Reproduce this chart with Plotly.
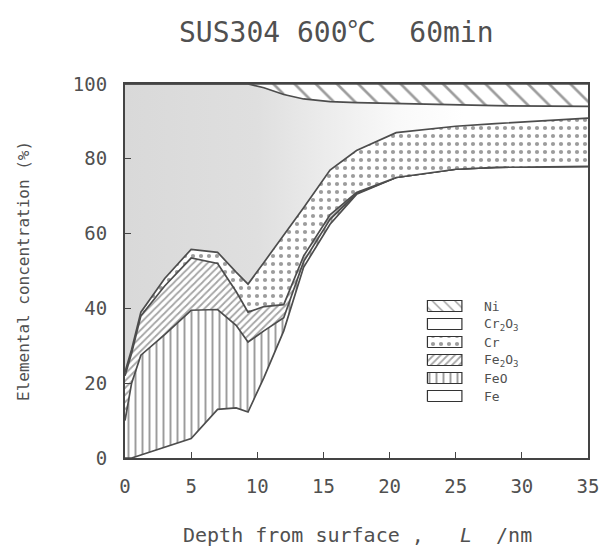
import numpy as np
import plotly.graph_objects as go

# Depth profile of SUS304 oxidised at 600 °C for 60 min (composition in %)
depth = [0, 0.5, 1.2, 3, 5, 7, 8.4, 9.3, 10.5, 12, 13.5, 15.5, 17.5, 20.5, 25, 28, 35]
fe    = [0, 0, 0.8, 2.8, 5.2, 13, 13.4, 12.3, 21.5, 34, 51, 62.5, 70.5, 75, 77.2, 77.7, 78]
feo   = [10, 20, 26.7, 30.2, 34.3, 26.7, 22.1, 18.7, 12.5, 3.5, 1.5, 1.3, 0.2, 0, 0, 0, 0]
fe2o3 = [12, 8, 10.5, 13, 14, 12.3, 9, 8, 6.5, 3.5, 1.5, 1.2, 0.3, 0, 0, 0, 0]
cr    = [1, 1, 1, 2, 2.3, 3, 5.2, 7.5, 11.8, 18.6, 12.9, 12, 11.2, 12, 11.5, 11.7, 12.9]
cr2o3 = [77, 71, 61, 52, 44.2, 45, 50.3, 53.5, 46.7, 37.6, 29.1, 18.3, 12.8, 7.8, 5.9, 4.8, 3.1]
ni    = [0, 0, 0, 0, 0, 0, 0, 0, 1, 2.8, 4, 4.7, 5, 5.2, 5.4, 5.8, 6]

x_ticks = [0, 5, 10, 15, 20, 25, 30, 35]
y_ticks = [0, 20, 40, 60, 80, 100]

MONO = "DejaVu Sans Mono, Noto Sans CJK JP, monospace"
INK = "#4d4d4d"
TXT = "#505050"

HAZE = [[0, "#d9d9d9"], [0.28, "#dfdfdf"], [0.43, "#ececec"],
        [0.58, "#f9f9f9"], [0.72, "#ffffff"], [1, "#ffffff"]]

# Layers from the bottom up, with the hatch used for each (None = plain / haze)
layers = [
    ("Fe", fe, None),
    ("FeO", feo, dict(shape="|", size=7, solidity=0.28, fgcolor="#3a3a3a", bgcolor="white")),
    ("Fe<sub>2</sub>O<sub>3</sub>", fe2o3, dict(shape="/", size=5, solidity=0.35, fgcolor="#4a4a4a", bgcolor="white")),
    ("Cr", cr, dict(shape=".", size=8, solidity=0.22, fgcolor="#3a3a3a", bgcolor="white")),
    ("Cr<sub>2</sub>O<sub>3</sub>", cr2o3, None),
    ("Ni", ni, dict(shape="\\", size=15, solidity=0.18, fgcolor="#3a3a3a", bgcolor="white")),
]

fig = go.Figure()
x = np.array(depth, dtype=float)
base = np.zeros_like(x)
for i, (name, vals, pat) in enumerate(layers):
    top = base + np.array(vals, dtype=float)
    kw = dict(
        x=x, y=top, mode="lines", name=name,
        line=dict(color=INK, width=1.7),
        fill="tozeroy" if i == 0 else "tonexty",
        fillcolor="white", showlegend=False, hoverinfo="skip",
    )
    if name.startswith("Cr<sub>2"):
        # oxide film: grey haze fading with depth
        kw["fillgradient"] = dict(type="horizontal", start=0, stop=35, colorscale=HAZE)
    elif pat is not None:
        kw["fillpattern"] = pat
    fig.add_trace(go.Scatter(**kw))
    base = top

# Key drawn on a pixel-scaled overlay (0..470 x 0..374 over the plot area)
key_rows = [152, 134, 116, 98, 80, 62]
for (name, vals, pat), yc in zip(reversed(layers), key_rows):
    x0, x1, y0, y1 = 307, 342, yc - 5.5, yc + 5.5
    kw = dict(x=[x0, x1, x1, x0, x0], y=[y0, y0, y1, y1, y0], mode="lines",
              fill="toself", fillcolor="white", line=dict(color="#333333", width=1.2),
              xaxis="x2", yaxis="y2", showlegend=False, hoverinfo="skip")
    if pat is not None:
        p = dict(pat)
        p["size"] = min(p["size"], 8)
        kw["fillpattern"] = p
    fig.add_trace(go.Scatter(**kw))
    fig.add_annotation(x=362, y=yc, xref="x2", yref="y2", text=name, showarrow=False,
                       xanchor="left", yanchor="middle",
                       font=dict(family=MONO, size=13, color=TXT))

axis_style = dict(ticks="inside", ticklen=6, tickcolor="#444", showline=True,
                  linecolor="#444", linewidth=2, mirror=True, showgrid=False,
                  zeroline=False, tickfont=dict(family=MONO, size=19, color=TXT))

fig.update_layout(
    width=611, height=555,
    margin=dict(l=125, r=16, t=84, b=97),
    paper_bgcolor="white", plot_bgcolor="white",
    font=dict(family=MONO, color=TXT),
    showlegend=False,
    xaxis=dict(range=[0, 35], tickvals=x_ticks, ticklabelstandoff=10, **axis_style),
    yaxis=dict(range=[0, 100], tickvals=y_ticks, ticklabelstandoff=12, **axis_style),
    xaxis2=dict(range=[0, 470], overlaying="x", anchor="y2", visible=False),
    yaxis2=dict(range=[0, 374], overlaying="y", anchor="x2", visible=False),
    annotations=list(fig.layout.annotations) + [
        dict(text="SUS304\u00a0600\u2103\u00a0\u00a060min", xref="paper", yref="paper",
             x=0.457, y=1, yshift=52, xanchor="center", yanchor="middle",
             showarrow=False, font=dict(family=MONO, size=28, color=TXT)),
        dict(text="Elemental concentration (%)", xref="paper", yref="paper",
             x=0, y=0.5, xshift=-102, textangle=-90, xanchor="center", yanchor="middle",
             showarrow=False, font=dict(family=MONO, size=16, color=TXT)),
        dict(text="Depth from surface ,\u00a0\u00a0\u00a0<i>L</i>\u00a0\u00a0/nm", xref="paper", yref="paper",
             x=0.502, y=0, yshift=-77, xanchor="center", yanchor="middle",
             showarrow=False, font=dict(family=MONO, size=20, color=TXT)),
    ],
)

fig.write_html("out.html")
